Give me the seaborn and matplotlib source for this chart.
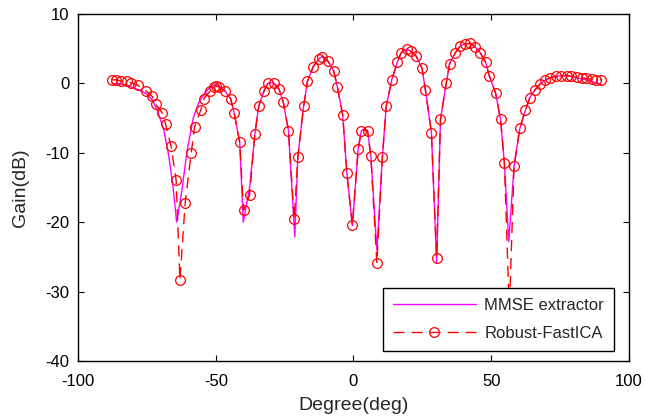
import pandas as pd
import matplotlib
matplotlib.use("Agg")
import matplotlib.pyplot as plt
import seaborn as sns

# Robust-FastICA samples (degree, gain dB)
fastica_deg = [-87.7, -86.2, -84.4, -82.2, -80.8, -78.2, -75.2, -73.0, -71.8, -69.4,
               -68.2, -66.2, -64.4, -63.0, -61.1, -58.9, -57.7, -55.4, -54.3, -52.1,
               -50.8, -49.9, -49.0, -46.7, -44.6, -43.3, -41.3, -39.9, -37.7, -35.8,
               -34.4, -32.4, -31.0, -28.9, -27.0, -25.5, -23.6, -21.5, -20.2, -18.1,
               -16.7, -14.6, -12.6, -11.3, -9.3, -7.2, -5.8, -3.9, -2.4, -0.4,
               1.7, 2.9, 5.1, 6.3, 8.5, 10.5, 11.9, 13.9, 15.9, 17.3,
               19.4, 20.9, 22.8, 24.9, 26.1, 28.3, 30.2, 31.6, 33.7, 34.9,
               37.0, 38.8, 40.4, 42.4, 44.2, 46.0, 48.0, 49.3, 51.6, 53.4,
               54.8, 56.6, 58.3, 60.4, 62.4, 64.0, 66.0, 67.8, 69.5, 71.3,
               73.5, 75.5, 77.5, 79.0, 81.0, 83.0, 84.5, 86.5, 88.0, 90.0]
fastica_gain = [0.5, 0.5, 0.3, 0.3, 0.05, -0.3, -1.15, -1.9, -3.0, -4.3,
                -5.9, -9.1, -13.9, -28.3, -17.2, -10.0, -6.3, -3.8, -2.2, -1.15,
                -0.6, -0.45, -0.5, -1.15, -2.2, -4.3, -8.5, -18.3, -16.1, -7.3,
                -3.3, -1.05, 0.05, 0.05, -0.86, -2.7, -6.8, -19.6, -10.6, -3.3,
                0.3, 2.4, 3.5, 3.85, 3.2, 1.8, -0.6, -4.6, -12.9, -20.4,
                -9.5, -6.8, -6.8, -10.4, -25.9, -10.6, -3.3, 0.5, 3.0, 4.4,
                4.9, 4.6, 3.9, 2.15, -0.9, -7.1, -25.1, -5.2, 0.05, 2.8,
                4.4, 5.4, 5.65, 5.75, 5.2, 4.4, 3.0, 1.1, -1.4, -5.2,
                -11.5, -33.0, -11.95, -6.5, -3.9, -2.1, -0.9, -0.1, 0.4, 0.8,
                1.0, 1.1, 1.1, 1.0, 0.9, 0.8, 0.7, 0.55, 0.5, 0.5]

# MMSE extractor curve
mmse_deg = [-87.7, -84.4, -80.8, -78.2, -75.2, -73.0, -71.2, -68.8, -67.0, -65.5,
            -64.2, -62.5, -60.4, -58.1, -56.3, -53.9, -52.0, -50.3, -49.0, -46.7,
            -44.6, -43.3, -41.3, -40.0, -37.7, -35.8, -34.4, -32.4, -31.0, -29.5,
            -28.9, -27.0, -25.5, -23.6, -21.3, -20.2, -18.1, -16.7, -14.6, -12.6,
            -11.3, -9.3, -7.2, -5.8, -3.9, -2.4, -0.4, 1.7, 2.9, 4.0,
            5.1, 6.3, 8.5, 10.5, 11.9, 13.9, 15.9, 17.3, 19.4, 20.9,
            22.8, 24.9, 26.1, 28.3, 30.2, 31.6, 33.7, 34.9, 37.0, 38.8,
            40.4, 42.4, 44.2, 46.0, 48.0, 49.3, 51.6, 53.4, 54.8, 56.4,
            58.3, 60.4, 62.4, 64.0, 66.0, 67.8, 69.5, 71.3, 73.5, 75.5,
            77.5, 79.0, 81.0, 83.0, 84.5, 86.5, 88.0, 90.0]
mmse_gain = [0.0, -0.1, -0.5, -0.9, -1.5, -2.4, -3.9, -6.8, -10.6, -14.9,
             -20.0, -16.0, -9.7, -4.9, -2.9, -1.3, -0.6, -0.2, -0.3, -1.1,
             -2.2, -4.3, -8.5, -20.0, -15.0, -7.3, -3.3, -1.0, 0.0, 0.1,
             0.0, -0.9, -2.7, -6.8, -22.1, -10.6, -3.3, 0.3, 2.4, 3.5,
             3.85, 3.2, 1.8, -0.6, -4.6, -12.9, -20.5, -9.5, -6.8, -6.6,
             -6.8, -10.4, -24.0, -10.6, -3.3, 0.5, 3.0, 4.4, 4.9, 4.6,
             3.9, 2.15, -0.9, -7.1, -25.9, -5.2, 0.05, 2.8, 4.4, 5.4,
             5.65, 5.75, 5.2, 4.4, 3.0, 1.1, -1.4, -5.2, -11.5, -22.8,
             -11.95, -6.5, -3.9, -2.1, -0.9, -0.1, 0.4, 0.8, 1.0, 1.1,
             1.1, 1.0, 0.8, 0.6, 0.5, 0.3, 0.1, -0.2]

x_ticks = [-100, -50, 0, 50, 100]
y_ticks = [-40, -30, -20, -10, 0, 10]

mmse = pd.DataFrame({"deg": mmse_deg, "gain": mmse_gain})
fastica = pd.DataFrame({"deg": fastica_deg, "gain": fastica_gain})

sns.set_style("ticks")
plt.rcParams["font.family"] = ["Liberation Sans", "DejaVu Sans"]
plt.rcParams["axes.unicode_minus"] = False
plt.rcParams["xtick.direction"] = "in"
plt.rcParams["ytick.direction"] = "in"

fig = plt.figure(figsize=(6.45, 4.18), dpi=100)
ax = fig.add_axes([0.121, 0.136, 0.854, 0.831])

sns.lineplot(data=mmse, x="deg", y="gain", color="#ff00ff", lw=1.0,
             label="MMSE extractor", ax=ax)
sns.lineplot(data=fastica, x="deg", y="gain", color="#ff0000", lw=1.0,
             linestyle=(0, (8, 5)), marker="o", markersize=7,
             markerfacecolor="none", markeredgecolor="#ff0000", markeredgewidth=0.9,
             label="Robust-FastICA", ax=ax)

ax.set_xlim(-100, 100)
ax.set_ylim(-40, 10)
ax.set_xticks(x_ticks)
ax.set_yticks(y_ticks)
ax.tick_params(labelsize=12, length=4, width=0.8, top=True, right=True, colors="black")
ax.tick_params(axis="x", pad=9)
ax.tick_params(axis="y", pad=6)
ax.set_xlabel("Degree(deg)", fontsize=14, labelpad=6)
ax.set_ylabel("Gain(dB)", fontsize=14, labelpad=12)
for s in ax.spines.values():
    s.set_visible(True)
    s.set_linewidth(1.0)
    s.set_color("black")

leg = ax.legend(loc="lower right", bbox_to_anchor=(0.973, 0.029), borderaxespad=0,
                fontsize=12, handlelength=5.0, handletextpad=0.5, labelspacing=0.8,
                borderpad=0.6, fancybox=False, framealpha=1, edgecolor="black")
leg.get_frame().set_linewidth(1.0)

fig.savefig("out.png", dpi=100)
